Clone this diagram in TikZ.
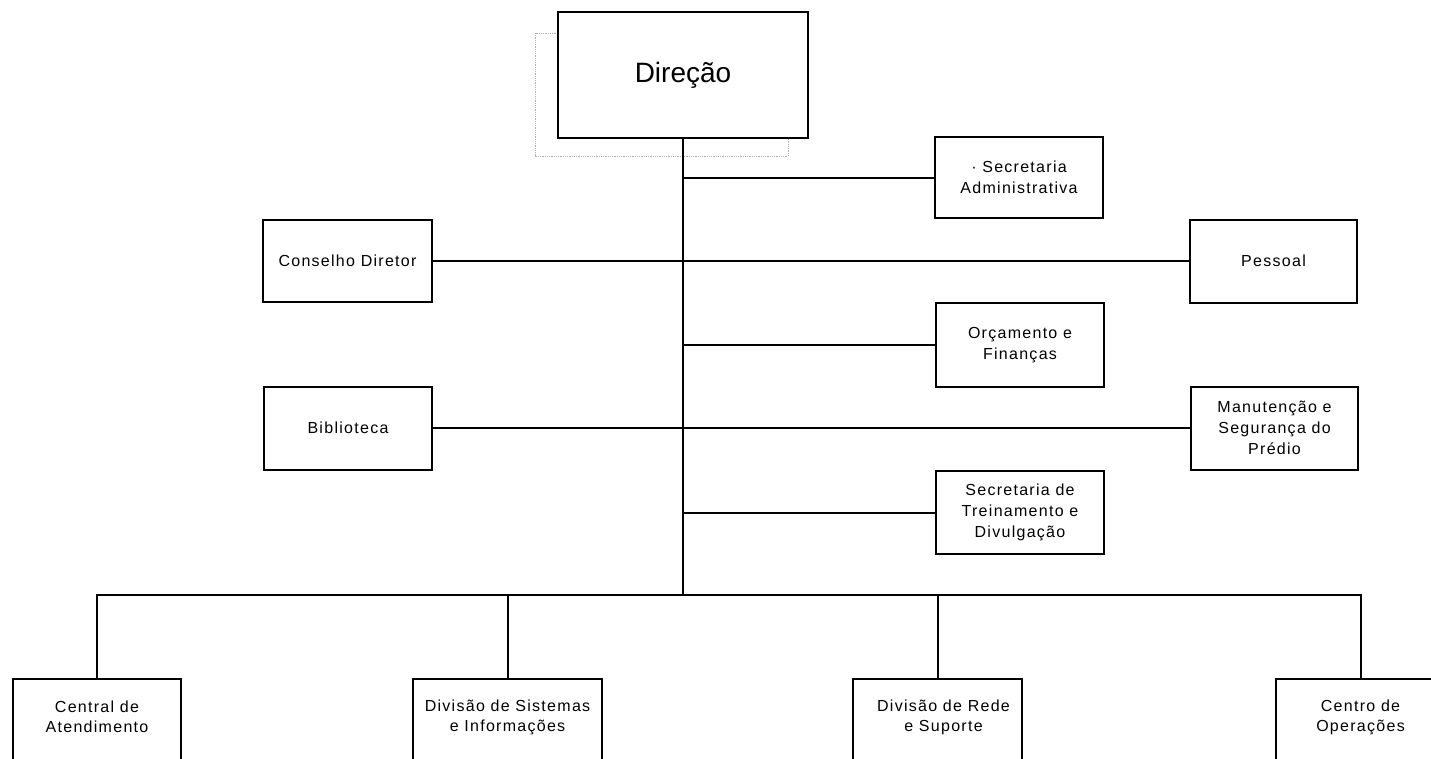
\documentclass[tikz,border=0pt]{standalone}
\usepackage{fontspec}
\setmainfont{Liberation Sans}
\newfontfamily\boxfont[LetterSpace=8]{Liberation Sans}
\begin{document}
\begin{tikzpicture}[x=1pt,y=-1pt,
  unit/.style={draw, line width=2pt, fill=white, inner sep=0pt, align=center,
    font=\boxfont\fontsize{16}{21}\selectfont},
  boxtext/.style={inner sep=0pt, align=center, font=\boxfont\fontsize{16}{20}\selectfont},
  link/.style={line width=2pt}]
\useasboundingbox (0,0) rectangle (1431,758);
\clip (0,0) rectangle (1431,758);

% faint dotted frame behind the top box
\draw[gray!60, densely dotted, line width=0.8pt] (535,33) rectangle (788,156);

% top of the hierarchy
\node[unit, minimum width=250pt, minimum height=126pt,
      font=\fontsize{28}{32}\selectfont] (dir) at (683,75) {Direção};

% staff units
\node[unit, minimum width=168pt, minimum height=81pt] (sa) at (1019,177.5)
  {\textperiodcentered\ Secretaria\\Administrativa};
\node[unit, minimum width=169pt, minimum height=82pt] (cd) at (347.5,261) {Conselho Diretor};
\node[unit, minimum width=167pt, minimum height=83pt] (pe) at (1273.5,261) {Pessoal};
\node[unit, minimum width=168pt, minimum height=84pt] (of) at (1020,345) {Orçamento e\\Finanças};
\node[unit, minimum width=168pt, minimum height=83pt] (bi) at (348,428) {Biblioteca};
\node[unit, minimum width=167pt, minimum height=83pt] (ma) at (1274.5,428)
  {Manutenção e\\Segurança do\\Prédio};
\node[unit, minimum width=168pt, minimum height=83pt] (tr) at (1020,512.5)
  {Secretaria de\\Treinamento e\\Divulgação};

% operational divisions (boxes run past the lower edge)
\node[unit, anchor=north, minimum width=168pt, minimum height=122pt] (ce) at (97,678) {};
\node[unit, anchor=north, minimum width=189pt, minimum height=122pt] (si) at (507.5,678) {};
\node[unit, anchor=north, minimum width=169pt, minimum height=122pt] (re) at (937.5,678) {};
\node[unit, anchor=north, minimum width=169pt, minimum height=122pt] (co) at (1360.5,678) {};
\node[boxtext] (cet) at ([yshift=-39pt]ce.north) {Central de\\Atendimento};
\node[boxtext] (sit) at ([yshift=-39pt]si.north) {Divisão de Sistemas\\e Informações};
\node[boxtext] (ret) at ([yshift=-39pt,xshift=6pt]re.north) {Divisão de Rede\\e Suporte};
\node[boxtext] (cot) at ([yshift=-39pt]co.north) {Centro de\\Operações};

% connectors
\coordinate (bus) at (683,595);
\draw[link] (dir.south) -- (bus);
\draw[link] (sa.west) -- (sa.west -| dir.south);
\draw[link] (of.west) -- (of.west -| dir.south);
\draw[link] (tr.west) -- (tr.west -| dir.south);
\draw[link] (cd.east) -- (pe.west);
\draw[link] (bi.east) -- (ma.west);
\draw[link] (ce.north) -- (ce.north |- bus) -- (co.north |- bus) -- (co.north);
\draw[link] (si.north) -- (si.north |- bus);
\draw[link] (re.north) -- (re.north |- bus);
\end{tikzpicture}
\end{document}
